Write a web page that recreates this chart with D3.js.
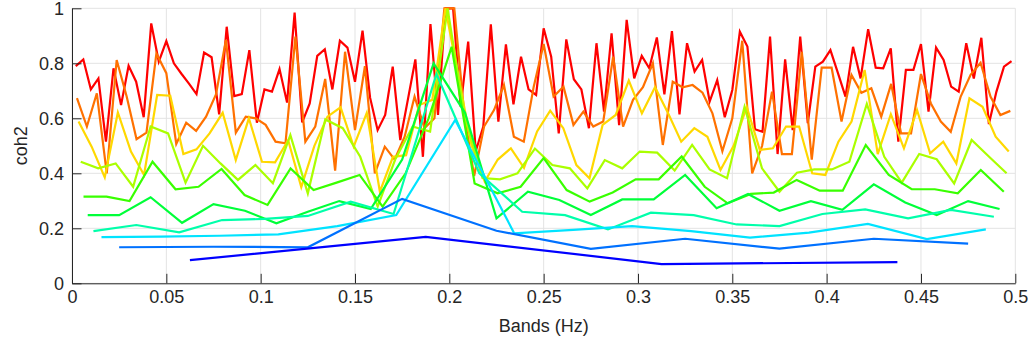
<!DOCTYPE html>
<html>
<head>
<meta charset="utf-8">
<script src="https://cdn.jsdelivr.net/npm/d3@7"></script>
<style>
  body { margin: 0; background: #fff; }
  text { font-family: "Liberation Sans", Arial, Helvetica, sans-serif; fill: #262626; }
</style>
</head>
<body>
<div id="chart"></div>
<script>
// coherence per band, one array per band resolution (finest first)
const coh125 = [
  0.790, 0.814, 0.705, 0.745, 0.515, 0.782, 0.648, 0.791, 0.733, 0.604, 0.945, 0.806, 0.881, 0.800, 0.762, 0.726,
  0.688, 0.839, 0.822, 0.614, 0.933, 0.681, 0.688, 0.848, 0.584, 0.705, 0.697, 0.779, 0.657, 0.984, 0.585, 0.654,
  0.827, 0.851, 0.705, 0.882, 0.857, 0.733, 0.919, 0.675, 0.557, 0.612, 0.788, 0.521, 0.667, 0.814, 0.460, 0.943,
  0.612, 1.000, 1.000, 0.642, 0.879, 0.480, 0.570, 0.942, 0.588, 0.869, 0.651, 0.824, 0.705, 0.685, 0.927,
  0.824, 0.545, 0.887, 0.742, 0.705, 0.564, 0.873, 0.624, 0.909, 0.575, 0.958, 0.745, 0.827, 0.782, 0.894, 0.687,
  0.917, 0.614, 0.873, 0.770, 0.812, 0.661, 0.739, 0.604, 0.703, 0.915, 0.861, 0.560, 0.551, 0.897, 0.470,
  0.814, 0.557, 0.897, 0.582, 0.788, 0.806, 0.848, 0.764, 0.679, 0.860, 0.745, 0.924, 0.784, 0.782, 0.854, 0.515,
  0.776, 0.776, 0.870, 0.624, 0.857, 0.812, 0.715, 0.697, 0.873, 0.745, 0.893, 0.579, 0.697, 0.788, 0.808
];
const coh95 = [
  0.673, 0.570, 0.691, 0.400, 0.812, 0.680, 0.524, 0.548, 0.836, 0.764, 0.507, 0.584, 0.554, 0.606, 0.687, 0.885,
  0.548, 0.606, 0.600, 0.576, 0.515, 0.509, 0.897, 0.515,
  0.570, 0.743, 0.410, 0.842, 0.557, 0.790, 0.400, 0.497, 0.450, 0.533, 0.679, 0.564, 0.600, 1.000, 1.000, 0.620,
  0.390, 0.570, 0.630, 0.721, 0.533, 0.515, 0.715, 0.870,
  0.679, 0.715, 0.576, 0.624, 0.570, 0.588, 0.824, 0.570, 0.667, 0.713, 0.800, 0.503, 0.733, 0.713, 0.721, 0.693,
  0.618, 0.480, 0.600, 0.882, 0.400, 0.500, 0.697, 0.470,
  0.470, 0.842, 0.450, 0.784, 0.784, 0.588, 0.758, 0.693, 0.709, 0.606, 0.725, 0.545, 0.545, 0.761, 0.654, 0.588,
  0.551, 0.679, 0.758, 0.802, 0.679, 0.612, 0.627
];
const coh72 = [
  0.588, 0.497, 0.385, 0.621, 0.479, 0.394, 0.685, 0.682, 0.470, 0.487, 0.545, 0.620, 0.448, 0.600, 0.442, 0.440,
  0.520, 0.350,
  0.500, 0.606, 0.640, 0.497, 0.620, 0.333, 0.460, 0.466, 0.648, 0.667, 1.000, 0.750, 0.500, 0.370, 0.450, 0.491,
  0.420, 0.552,
  0.628, 0.564, 0.430, 0.382, 0.576, 0.612, 0.737, 0.618, 0.713, 0.618, 0.515, 0.564, 0.533, 0.412, 0.500, 0.642,
  0.485, 0.491,
  0.570, 0.570, 0.400, 0.394, 0.515, 0.588, 0.776, 0.470, 0.615, 0.491, 0.630, 0.473, 0.515, 0.436, 0.673, 0.642,
  0.533, 0.479
];
const coh54 = [
  0.442, 0.418, 0.436, 0.351, 0.570, 0.545, 0.366, 0.500, 0.436, 0.376, 0.430, 0.364, 0.539, 0.327,
  0.596, 0.564, 0.460, 0.279, 0.450, 0.570, 0.552, 1.000, 0.600, 0.383, 0.378, 0.400, 0.490,
  0.430, 0.418, 0.345, 0.448, 0.418, 0.479, 0.475, 0.410, 0.503, 0.414, 0.382, 0.642, 0.418, 0.333,
  0.402, 0.414, 0.414, 0.442, 0.652, 0.460, 0.366, 0.470, 0.451, 0.363, 0.521, 0.460, 0.400
];
const coh41 = [
  0.315, 0.315, 0.299, 0.442, 0.342, 0.351, 0.416, 0.321, 0.285, 0.418,
  0.339, 0.366, 0.394, 0.279, 0.400, 0.600, 0.860, 0.363, 0.327, 0.351, 0.455,
  0.339, 0.297, 0.330, 0.378, 0.378, 0.461, 0.351, 0.291, 0.325, 0.330,
  0.376, 0.337, 0.337, 0.503, 0.394, 0.342, 0.342, 0.327, 0.412, 0.333
];
const coh30 = [
  0.248, 0.248, 0.313, 0.220, 0.288, 0.264, 0.218, 0.260, 0.299, 0.270, 0.450, 0.800, 0.620, 0.236, 0.333,
  0.303, 0.248, 0.305, 0.305, 0.394, 0.273, 0.325, 0.264, 0.299, 0.267, 0.360, 0.294, 0.248, 0.299, 0.270
];
const coh22 = [
  0.190, 0.212, 0.185, 0.230, 0.234, 0.245, 0.297, 0.252, 0.761, 0.400, 0.260,
  0.248, 0.196, 0.257, 0.248, 0.214, 0.208, 0.252, 0.269, 0.236, 0.267, 0.242
];
const coh16 = [0.168, 0.170, 0.173, 0.178, 0.208, 0.248, 0.594, 0.182, 0.194, 0.208, 0.190, 0.166, 0.184, 0.216, 0.161, 0.196];
const coh10 = [0.131, 0.133, 0.131, 0.307, 0.191, 0.125, 0.162, 0.126, 0.162, 0.144];
const coh4 = [0.084, 0.169, 0.070, 0.077];

const series = [coh125, coh95, coh72, coh54, coh41, coh30, coh22, coh16, coh10, coh4];
const lineColors = ["#ff0000", "#ff7100", "#ffd800", "#aaff00", "#39ff00", "#00ff39", "#00ffaa", "#00e3ff", "#0071ff", "#0000ff"];

const xTicks = [0, 0.05, 0.1, 0.15, 0.2, 0.25, 0.3, 0.35, 0.4, 0.45, 0.5];
const yTicks = [0, 0.2, 0.4, 0.6, 0.8, 1];

const width = 1032, height = 347;
const plotLeft = 72, plotRight = 1015.3, plotTop = 8.3, plotBottom = 283.3;

const x = d3.scaleLinear().domain([0, 0.5]).range([plotLeft, plotRight]);
const y = d3.scaleLinear().domain([0, 1]).range([plotBottom, plotTop]);

const svg = d3.select("#chart").append("svg")
    .attr("width", width)
    .attr("height", height);

// grid
svg.append("g")
    .selectAll("line")
    .data(xTicks)
    .join("line")
    .attr("x1", d => x(d)).attr("x2", d => x(d))
    .attr("y1", plotTop).attr("y2", plotBottom)
    .attr("stroke", "#e3e3e3")
    .attr("stroke-width", 1);
svg.append("g")
    .selectAll("line")
    .data(yTicks)
    .join("line")
    .attr("x1", plotLeft).attr("x2", plotRight)
    .attr("y1", d => y(d)).attr("y2", d => y(d))
    .attr("stroke", "#e3e3e3")
    .attr("stroke-width", 1);

// lines: band centres of n equal bands over 0..0.5 Hz
const line = d3.line()
    .x((d, i, arr) => x((i + 0.5) * 0.5 / arr.length))
    .y(d => y(d));

svg.append("g")
    .selectAll("path")
    .data(series)
    .join("path")
    .attr("d", d => line(d))
    .attr("fill", "none")
    .attr("stroke", (d, i) => lineColors[i])
    .attr("stroke-width", 2.2)
    .attr("stroke-linejoin", "miter")
    .attr("stroke-miterlimit", 4);

// axes
const fmt = d => d3.format("~g")(d);
const xAxis = svg.append("g")
    .attr("transform", `translate(0,${plotBottom})`)
    .call(d3.axisBottom(x).tickValues(xTicks).tickFormat(fmt).tickSizeInner(-9.5).tickSizeOuter(0).tickPadding(7));
const yAxis = svg.append("g")
    .attr("transform", `translate(${plotLeft},0)`)
    .call(d3.axisLeft(y).tickValues(yTicks).tickFormat(fmt).tickSizeInner(-9.5).tickSizeOuter(0).tickPadding(8));

[xAxis, yAxis].forEach(g => {
  g.select(".domain").attr("stroke", "#262626").attr("stroke-width", 1);
  g.selectAll(".tick line").attr("stroke", "#262626").attr("stroke-width", 1);
  g.selectAll(".tick text")
      .attr("font-family", "Liberation Sans, Arial, sans-serif")
      .attr("font-size", 18)
      .attr("fill", "#262626");
});

svg.append("text")
    .attr("x", (plotLeft + plotRight) / 2)
    .attr("y", 332)
    .attr("text-anchor", "middle")
    .attr("font-size", 18)
    .text("Bands (Hz)");

svg.append("text")
    .attr("transform", `translate(27,${(plotTop + plotBottom) / 2}) rotate(-90)`)
    .attr("text-anchor", "middle")
    .attr("font-size", 18)
    .text("coh2");
</script>
</body>
</html>
